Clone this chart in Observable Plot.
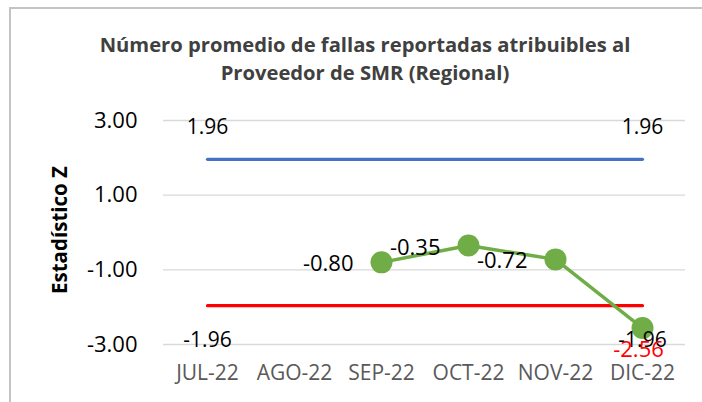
<!DOCTYPE html>
<html>
<head>
<meta charset="utf-8">
<script src="https://cdn.jsdelivr.net/npm/d3@7"></script>
<script src="https://cdn.jsdelivr.net/npm/@observablehq/plot@0.6"></script>
<style>
  html, body { margin: 0; padding: 0; background: #fff; }
  #wrap { position: relative; width: 702px; height: 402px; overflow: hidden; background: #fff; }
  #frame { position: absolute; left: 9px; top: 7px; width: 720px; height: 420px;
           border-left: 2px solid #c4c4c4; border-top: 2px solid #c4c4c4; box-sizing: border-box; }
  #title { position: absolute; left: 0; width: 730px; top: 30px; text-align: center;
           font-family: "Open Sans", sans-serif; font-weight: bold; font-size: 20.2px;
           line-height: 28px; color: #404040; }
  #ytitle { position: absolute; left: 59px; top: 230px; transform: translate(-50%, -50%) rotate(-90deg);
            font-family: "Open Sans", sans-serif; font-weight: bold; font-size: 20.5px; color: #000; white-space: nowrap; }
  #chart { position: absolute; left: 0; top: 0; }
</style>
</head>
<body>
<div id="wrap">
  <div id="frame"></div>
  <div id="title">Número promedio de fallas reportadas atribuibles al<br>Proveedor de SMR (Regional)</div>
  <div id="chart"></div>
  <div id="ytitle">Estadístico Z</div>
</div>
<script>
const months = ["JUL-22", "AGO-22", "SEP-22", "OCT-22", "NOV-22", "DIC-22"];
const upperLimit = [1.96, 1.96, 1.96, 1.96, 1.96, 1.96];
const lowerLimit = [-1.96, -1.96, -1.96, -1.96, -1.96, -1.96];
const zValues = [null, null, -0.80, -0.35, -0.72, -2.56];
const yTicks = [-3, -1, 1, 3];
const limitLabelMonths = ["JUL-22", "DIC-22"];

const upperData = months.map((m, i) => ({ m, v: upperLimit[i] }));
const lowerData = months.map((m, i) => ({ m, v: lowerLimit[i] }));
const zData = months.map((m, i) => ({ m, v: zValues[i] }));
const zDefined = zData.filter(d => d.v != null);
const fmt = v => v.toFixed(2);

const chart = Plot.plot({
  width: 702,
  height: 402,
  marginTop: 120,
  marginBottom: 58,
  marginLeft: 163,
  marginRight: 17,
  style: { fontFamily: "Open Sans, sans-serif", background: "transparent", overflow: "visible" },
  x: { type: "point", domain: months, padding: 0.5, align: 0.5 },
  y: { domain: [-3, 3] },
  marks: [
    Plot.gridY(yTicks, { stroke: "#d9d9d9", strokeOpacity: 1, strokeWidth: 1.3 }),
    Plot.axisY(yTicks, { tickSize: 0, tickPadding: 26, fontSize: 22, color: "#000", fill: "#000", tickFormat: fmt, label: null }),
    Plot.axisX({ tickSize: 0, tickPadding: 21, fontSize: 21, color: "#595959", fill: "#595959", label: null }),
    Plot.line(upperData, { x: "m", y: "v", stroke: "#4472C4", strokeWidth: 3.2, strokeLinecap: "round" }),
    Plot.line(lowerData, { x: "m", y: "v", stroke: "#FF0000", strokeWidth: 3.2, strokeLinecap: "round" }),
    Plot.line(zData, { x: "m", y: "v", stroke: "#70AD47", strokeWidth: 3.5 }),
    Plot.dot(zDefined, { x: "m", y: "v", r: 11, fill: "#70AD47", stroke: null }),
    Plot.text(upperData.filter(d => limitLabelMonths.includes(d.m)), { x: "m", y: "v", text: d => fmt(d.v), dy: -32, fontSize: 21, fill: "#000" }),
    Plot.text(lowerData.filter(d => limitLabelMonths.includes(d.m)), { x: "m", y: "v", text: d => fmt(d.v), dy: 35, fontSize: 21, fill: "#000" }),
    Plot.text(zDefined.filter(d => d.m !== "DIC-22"), { x: "m", y: "v", text: d => fmt(d.v), textAnchor: "end", dx: -28, dy: 2, fontSize: 22, fill: "#000" }),
    Plot.text(zDefined.filter(d => d.m === "DIC-22"), { x: "m", y: "v", text: d => fmt(d.v), dx: -4, dy: 22, fontSize: 22, fill: "#FF0000" })
  ]
});
document.getElementById("chart").appendChild(chart);
</script>
</body>
</html>
